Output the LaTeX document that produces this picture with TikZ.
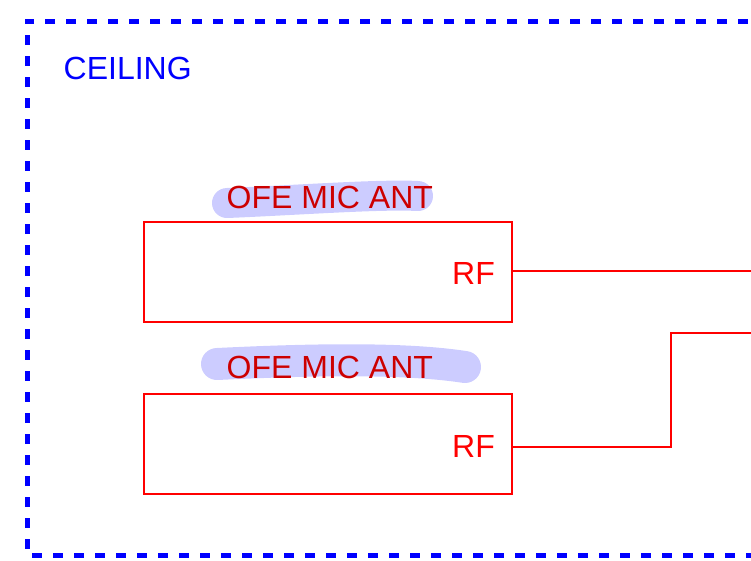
\documentclass[tikz,border=0pt]{standalone}
\usepackage{fontspec}
\setmainfont{Liberation Sans}
\begin{document}
\begin{tikzpicture}[x=1pt,y=-1pt,
  lbl/.style={inner sep=0pt,font=\fontsize{32}{38}\selectfont},
  antbox/.style={draw=red,line width=2.8pt,minimum width=368pt,minimum height=100pt,inner sep=0pt,anchor=center},
  wire/.style={draw=red,line width=2.8pt},
  hilite/.style={draw={rgb,255:red,204;green,204;blue,255},line cap=round,line join=round}]
\useasboundingbox (0,0) rectangle (751,560);
% ceiling boundary (clipped at right)
\begin{scope}
\clip (0,0) rectangle (751,560);
\draw[blue,line width=5pt,dash pattern=on 10pt off 11pt] (790,21) -- (27,21) -- (27,555) -- (790,555);
\end{scope}
\node[lbl,blue,anchor=base west] (ceil) at (63.5,79) {CEILING};
% highlights
\draw[hilite,line width=30pt] (227,203) .. controls (300,200) and (380,194) .. (418,196);
\draw[hilite,line width=32pt] (217,364) .. controls (300,360) and (400,357) .. (465,367);
% labels
\node[lbl,anchor=base west,text={rgb,255:red,204;green,0;blue,0}] (l1) at (226.5,208) {OFE MIC ANT};
\node[lbl,anchor=base west,text={rgb,255:red,204;green,0;blue,0}] (l2) at (226.5,378) {OFE MIC ANT};
% boxes
\node[antbox] (b1) at (328,272) {};
\node[antbox] (b2) at (328,444) {};
\node[lbl,red,anchor=base east] (rf1) at (495,284) {RF};
\node[lbl,red,anchor=base east] (rf2) at (495,457) {RF};
% wires
\coordinate (e1) at (760,271);
\coordinate (k) at (671,447);
\coordinate (e2) at (760,333);
\begin{scope}
\clip (0,0) rectangle (751,560);
\draw[wire] (b1.east |- 0,271) -- (e1);
\draw[wire] (b2.east |- 0,447) -- (k) -- (k |- e2) -- (e2);
\end{scope}
\end{tikzpicture}
\end{document}
